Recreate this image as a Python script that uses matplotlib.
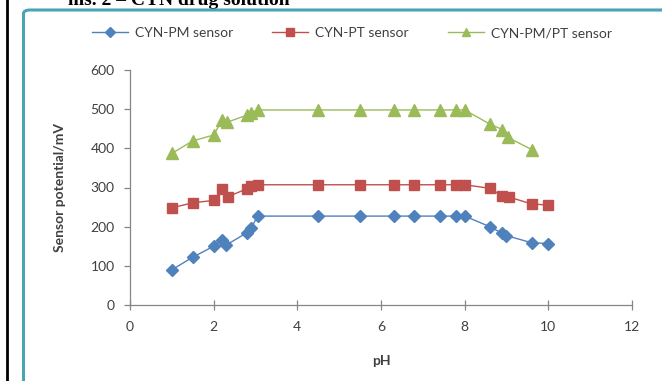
#!/usr/bin/env python3

import matplotlib.pyplot as plt
import matplotlib.patches as patches
from matplotlib.lines import Line2D

plt.rcParams[ 'font.family' ] = [ 'Lato', 'DejaVu Sans' ]

# pH values and sensor potentials (mV)
ph_pm = [1.0, 1.5, 2.0, 2.2, 2.3, 2.8, 2.9, 3.05, 4.5, 5.5, 6.3, 6.8, 7.4, 7.8, 8.0, 8.6, 8.9, 9.0, 9.6, 10.0]
mv_pm = [90, 122, 150, 166, 153, 185, 197, 227, 227, 227, 227, 227, 227, 227, 227, 200, 183, 177, 159, 157]

ph_pt = [1.0, 1.5, 2.0, 2.2, 2.35, 2.8, 2.9, 3.05, 4.5, 5.5, 6.3, 6.8, 7.4, 7.8, 8.0, 8.6, 8.9, 9.05, 9.6, 10.0]
mv_pt = [248, 261, 267, 295, 277, 297, 304, 307, 307, 307, 307, 307, 307, 307, 307, 298, 278, 276, 258, 255]

ph_pmpt = [1.0, 1.5, 2.0, 2.2, 2.33, 2.8, 2.9, 3.05, 4.5, 5.5, 6.3, 6.8, 7.4, 7.8, 8.0, 8.6, 8.9, 9.03, 9.6]
mv_pmpt = [387, 419, 434, 472, 467, 485, 491, 498, 498, 498, 498, 498, 498, 498, 498, 462, 448, 428, 397]

labels = ['CYN-PM sensor', 'CYN-PT sensor', 'CYN-PM/PT sensor']
colors = ['#4F81BD', '#C0504D', '#9BBB59']
markers = ['D', 's', '^']
msizes = [6.2, 7.2, 8]

txt = '#404040'
axc = '#868686'

fig = plt.figure( figsize = ( 6.62, 3.81 ), dpi = 100 )

# frame of the chart box and the table line on the left
fig.add_artist( Line2D( [ 7 / 662, 7 / 662 ], [ 0, 1 ], color = 'k', lw = 2,
                        transform = fig.transFigure, zorder = -2 ) )
box = patches.FancyBboxPatch( ( 23.5 / 662, -0.1 ), 1.2, 1.1 - 10 / 381,
                              boxstyle = 'round,pad=0,rounding_size=0.01',
                              transform = fig.transFigure, fc = 'white',
                              ec = '#4BA3B4', lw = 2.2, zorder = -1 )
fig.add_artist( box )

fig.text( 68 / 662, 1 - 5 / 381, 'ms. 2 \u2013 CYN drug solution',
          family = 'Liberation Serif', weight = 'bold', fontsize = 14,
          va = 'baseline', ha = 'left', zorder = -3 )

ax = fig.add_axes( [ 130 / 662, 1 - 305 / 381, 502 / 662, 235 / 381 ] )
ax.patch.set_alpha( 0 )

series = [ ( ph_pm, mv_pm ), ( ph_pt, mv_pt ), ( ph_pmpt, mv_pmpt ) ]
for ( x, y ), lab, c, m, s in zip( series, labels, colors, markers, msizes ):
    ax.plot( x, y, color = c, lw = 1.0, marker = m, ms = s,
             mec = c, mfc = c, label = lab, zorder = 3 )

ax.set_xlim( 0, 12 )
ax.set_ylim( 0, 600 )
ax.set_xticks( range( 0, 13, 2 ) )
ax.set_yticks( range( 0, 601, 100 ) )

for side in [ 'top', 'right' ]:
    ax.spines[ side ].set_visible( False )
for side in [ 'left', 'bottom' ]:
    ax.spines[ side ].set_color( axc )
    ax.spines[ side ].set_linewidth( 0.9 )
ax.tick_params( axis = 'both', colors = axc, labelcolor = txt, labelsize = 10,
                length = 4, width = 0.9 )
ax.tick_params( axis = 'x', direction = 'inout', length = 7, pad = 8 )
ax.tick_params( axis = 'y', direction = 'out', pad = 7 )

ax.set_xlabel( 'pH', fontsize = 10, weight = 'bold', color = txt, labelpad = 16 )
ax.set_ylabel( 'Sensor potential/mV', fontsize = 10, weight = 'bold',
               color = txt, labelpad = 18 )

fig.legend( loc = 'center', bbox_to_anchor = ( 352 / 662, 1 - 33 / 381 ),
            ncol = 3, frameon = False, fontsize = 10, labelcolor = txt,
            handlelength = 2.6, columnspacing = 2.8, handletextpad = 0.5,
            markerscale = 0.8 )

fig.savefig( 'out.png', dpi = 100 )
